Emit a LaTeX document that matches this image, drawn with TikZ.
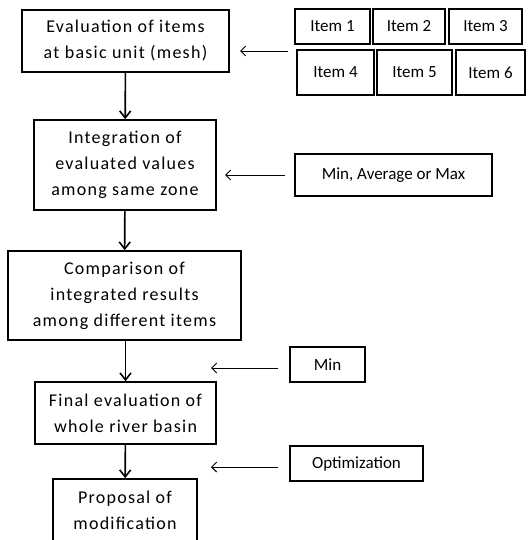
\documentclass[tikz,border=0pt]{standalone}
\usepackage{fontspec}
\setmainfont{Carlito}
\newfontfamily\spaced[LetterSpace=7]{Carlito}
\usetikzlibrary{arrows.meta}
\begin{document}
\begin{tikzpicture}[x=1pt,y=-1pt,
  box/.style={draw,line width=1.6pt,align=center,inner sep=0pt,font=\spaced\fontsize{18}{26}\selectfont},
  item/.style={draw,line width=1.6pt,align=center,inner sep=0pt,font=\fontsize{17}{20}\selectfont},
  flow/.style={line width=1.6pt,-{Straight Barb[length=7pt,width=11pt,line width=1.6pt]}},
  feed/.style={line width=0.8pt,-{Straight Barb[length=5pt,width=10pt,line width=0.9pt]}}]
\useasboundingbox (0,0) rectangle (530,540);
\clip (0,0) rectangle (530,540);
\node[box,minimum width=207pt,minimum height=62pt] (b1) at (125.5,41) {Evaluation of items\\at basic unit (mesh)};
\node[box,minimum width=182pt,minimum height=90pt] (b2) at (125,165) {Integration of\\evaluated values\\among same zone};
\node[box,minimum width=233pt,minimum height=89pt] (b3) at (124.5,295.5) {Comparison of\\integrated results\\among different items};
\node[box,minimum width=181pt,minimum height=62pt] (b4) at (125.5,413) {Final evaluation of\\whole river basin};
\node[box,minimum width=144pt,minimum height=62pt] (b5) at (125,510) {Proposal of\\modification};
\node[item,minimum width=75pt,minimum height=35pt] (i1) at (332.5,26.5) {Item 1};
\node[item,minimum width=72pt,minimum height=35pt] (i2) at (409,26.5) {Item 2};
\node[item,minimum width=73pt,minimum height=35pt] (i3) at (485.5,26.5) {Item 3};
\node[item,minimum width=77pt,minimum height=45pt] (i4) at (335.5,72.5) {Item 4};
\node[item,minimum width=75pt,minimum height=45pt] (i5) at (414.5,72.5) {Item 5};
\node[item,minimum width=69pt,minimum height=45pt] (i6) at (490.5,72.5) {Item 6};
\node[item,minimum width=197pt,minimum height=42pt] (m1) at (393.5,175) {Min, Average or Max};
\node[item,minimum width=75pt,minimum height=35pt] (m2) at (327.5,364.5) {Min};
\node[item,minimum width=133pt,minimum height=35pt] (m3) at (356.5,463.5) {Optimization};
\draw[flow] (b1) -- (b2);
\draw[flow] (b2) -- (b3);
\draw[flow] (b3.south -| b4.north) -- (b4);
\draw[flow] (b4) -- (b5);
\coordinate (s1) at (288,51); \coordinate (e1) at (240,51);
\coordinate (s2) at (285,175); \coordinate (e2) at (225,175);
\coordinate (s3) at (278,368); \coordinate (e3) at (211,368);
\coordinate (s4) at (278,467); \coordinate (e4) at (211,467);
\draw[feed] (s1) -- (e1);
\draw[feed] (s2) -- (e2);
\draw[feed] (s3) -- (e3);
\draw[feed] (s4) -- (e4);
\end{tikzpicture}
\end{document}
